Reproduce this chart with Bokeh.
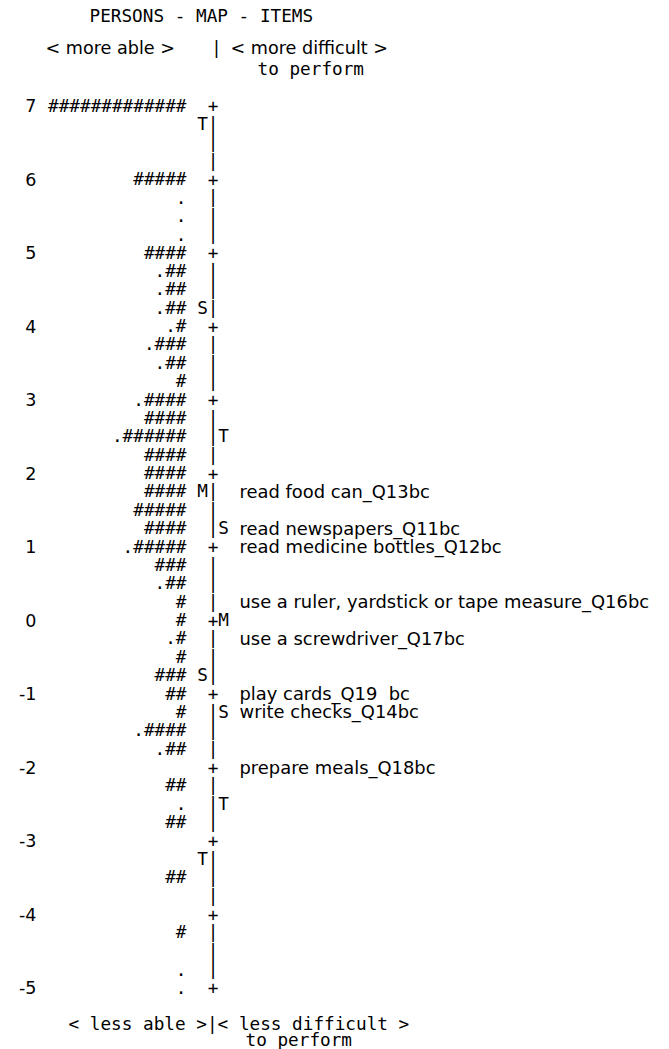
import numpy as np
from bokeh.plotting import figure
from bokeh.models import Range1d
from bokeh.core.properties import value
from bokeh.embed import file_html
from bokeh.resources import INLINE

# ---------------- data ----------------
scale_values = [7, 6, 5, 4, 3, 2, 1, 0, -1, -2, -3, -4, -5]

person_logits = [7.0, 6.0, 5.75, 5.5, 5.25, 5.0, 4.75, 4.5, 4.25, 4.0,
                 3.75, 3.5, 3.25, 3.0, 2.75, 2.5, 2.25, 2.0,
                 1.75, 1.5, 1.25, 1.0, 0.75, 0.5, 0.25, 0.0,
                 -0.25, -0.5, -0.75, -1.0, -1.25, -1.5, -1.75,
                 -2.25, -2.5, -2.75, -3.5, -4.25, -4.75, -5.0]
person_marks = ["#############", "#####", ".", ".", ".", "####", ".##", ".##", ".##", ".#",
                ".###", ".##", "#", ".####", "####", ".######", "####", "####",
                "####", "#####", "####", ".#####", "###", ".##", "#", "#",
                ".#", "#", "###", "##", "#", ".####", ".##",
                "##", ".", "##", "##", "#", ".", "."]

person_stat_labels = ["T", "S", "M", "S", "T"]
person_stat_logits = [6.75, 4.25, 1.75, -0.75, -3.25]

item_stat_labels = ["T", "S", "M", "S", "T"]
item_stat_logits = [2.5, 1.25, 0.0, -1.25, -2.5]

item_names = ["read food can_Q13bc", "read newspapers_Q11bc", "read medicine bottles_Q12bc",
              "use a ruler, yardstick or tape measure_Q16bc", "use a screwdriver_Q17bc",
              "play cards_Q19 \u00a0bc", "write checks_Q14bc", "prepare meals_Q18bc"]
item_logits = [1.75, 1.25, 1.0, 0.25, -0.25, -1.0, -1.25, -2.0]

# ---------------- layout ----------------
W, H = 653, 1049
Y_TOP_LOGIT = 7.0
PX_PER_LOGIT = 73.5
PIX_Y_TOP_LOGIT = 105.0  # pixel row of logit 7


def ly(pix_y):
    return Y_TOP_LOGIT - (pix_y - PIX_Y_TOP_LOGIT) / PX_PER_LOGIT


p = figure(width=W, height=H, x_range=Range1d(0, W), y_range=Range1d(ly(H), ly(0)),
           output_backend="svg", toolbar_location=None, min_border=0)
p.axis.visible = False
p.grid.visible = False
p.outline_line_color = None
p.background_fill_color = "white"
p.border_fill_color = "white"

MONO = value("DejaVu Sans Mono")
SANS = value("DejaVu Sans")
MONO_SIZE = "17.7px"
SANS_SIZE = "17.6px"
ITEM_SIZE = "17.9px"

X_NUM = 36
X_PERSON = 186
X_PSTAT = 202
X_AXIS = 212.5
X_ISTAT = 223
X_ITEM = 239

common = dict(text_baseline="middle", text_color="black")

# scale numbers
p.text(x=[X_NUM] * len(scale_values), y=scale_values, text=[str(v) for v in scale_values],
       text_font=SANS, text_font_size="17.5px", text_align="right", **common)

# persons
p.text(x=[X_PERSON] * len(person_logits), y=person_logits, text=person_marks,
       text_font=MONO, text_font_size=MONO_SIZE, text_align="right", **common)

# axis column
rows = np.arange(max(scale_values), min(scale_values) - 0.001, -0.25)
axis_chars = ["+" if abs(r - round(r)) < 1e-9 else "|" for r in rows]
p.text(x=[X_AXIS] * len(rows), y=list(rows), text=axis_chars,
       text_font=MONO, text_font_size=MONO_SIZE, text_align="center", **common)

# person M/S/T
p.text(x=[X_PSTAT] * len(person_stat_logits), y=person_stat_logits, text=person_stat_labels,
       text_font=MONO, text_font_size=MONO_SIZE, text_align="center", **common)
# item M/S/T
p.text(x=[X_ISTAT] * len(item_stat_logits), y=item_stat_logits, text=item_stat_labels,
       text_font=MONO, text_font_size=MONO_SIZE, text_align="center", **common)

# item labels
p.text(x=[X_ITEM] * len(item_logits), y=item_logits, text=item_names,
       text_font=SANS, text_font_size=ITEM_SIZE, text_align="left", **common)

# header / footer texts
p.text(x=[89], y=[ly(15)], text=["PERSONS - MAP - ITEMS"], text_font=MONO,
       text_font_size=MONO_SIZE, text_align="left", **common)
p.text(x=[45], y=[ly(47)], text=["< more able >"], text_font=SANS,
       text_font_size=SANS_SIZE, text_align="left", **common)
p.text(x=[216], y=[ly(47)], text=["|"], text_font=SANS,
       text_font_size=SANS_SIZE, text_align="center", **common)
p.text(x=[230], y=[ly(47)], text=["< more difficult >"], text_font=SANS,
       text_font_size=SANS_SIZE, text_align="left", **common)
p.text(x=[257], y=[ly(68)], text=["to perform"], text_font=MONO,
       text_font_size=MONO_SIZE, text_align="left", **common)
p.text(x=[68], y=[ly(1023)], text=["< less able >|< less difficult >"], text_font=MONO,
       text_font_size=MONO_SIZE, text_align="left", **common)
p.text(x=[245], y=[ly(1039)], text=["to perform"], text_font=MONO,
       text_font_size=MONO_SIZE, text_align="left", **common)

open("out.html", "w").write(file_html(p, INLINE))
